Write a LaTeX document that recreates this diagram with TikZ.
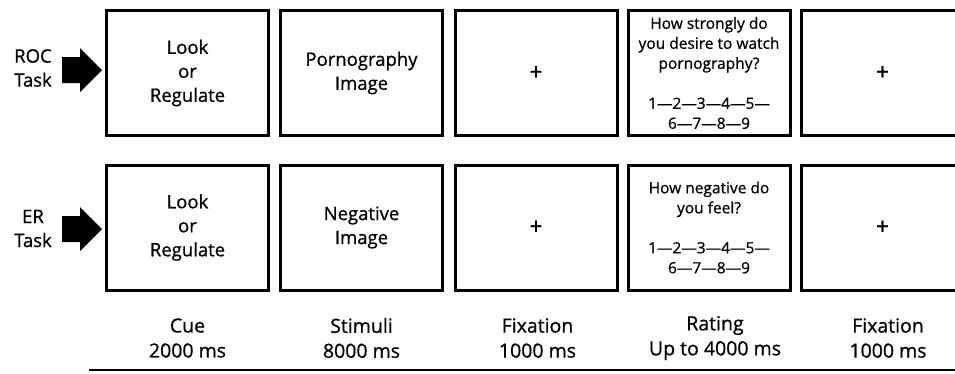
\documentclass[tikz,border=0pt]{standalone}
\usepackage{fontspec}
\setmainfont{Open Sans}[FakeBold=0.7]

\newcommand{\screenfont}{\fontsize{18.5}{24}\selectfont}
\newcommand{\ratingfont}{\fontsize{15.5}{20}\selectfont}
\newcommand{\timingfont}{\fontsize{19.5}{25}\selectfont}
\newcommand{\crossfont}{\fontsize{23}{23}\selectfont}

\begin{document}
\begin{tikzpicture}[x=1pt,y=-1pt,
	screen/.style={draw, line width=3pt, minimum width=162pt, minimum height=125pt, inner sep=0pt, align=center, font=\screenfont},
	rating/.style={screen, font=\ratingfont},
	fixation/.style={screen, font=\crossfont},
	timing/.style={inner sep=0pt, align=center, font=\timingfont},
	tasklabel/.style={inner sep=0pt, align=center, font=\screenfont}]
		\useasboundingbox (0,0) rectangle (955,373);
		\clip (0,0) rectangle (955,373);
		% 任务标签与箭头
		\node[tasklabel] (roc) at (33,68) {ROC\\Task};
		\node[tasklabel] (er) at (33,228.5) {ER\\Task};
		\foreach \y in {70,229}
			\fill (62,\y-13) -- (80,\y-13) -- (80,\y-22) -- (102,\y) -- (80,\y+22) -- (80,\y+13) -- (62,\y+13) -- cycle;
		% 第一行：ROC 任务
		\node[screen] (roc1) at (187.5,73) {Look\\or\\Regulate};
		\node[screen] (roc2) at (361.5,73) {Pornography\\Image};
		\node[fixation] (roc3) at (536,73) {+};
		\node[rating] (roc4) at (709,73) {How strongly do\\you desire to watch\\pornography?\\[20pt]1—2—3—4—5—\\6—7—8—9};
		\node[fixation] (roc5) at (882.5,73) {+};
		% 第二行：ER 任务
		\node[screen] (er1) at (187.5,227.5) {Look\\or\\Regulate};
		\node[screen] (er2) at (361.5,227.5) {Negative\\Image};
		\node[fixation] (er3) at (536,227.5) {+};
		\node[rating] (er4) at (709,227.5) {How negative do\\you feel?\\[20pt]1—2—3—4—5—\\6—7—8—9};
		\node[fixation] (er5) at (882.5,227.5) {+};
		% 时间标签
		\node[timing] (cue) at (187.5,338) {Cue\\2000 ms};
		\node[timing] (stimuli) at (361.5,338) {Stimuli\\8000 ms};
		\node[timing] (fix1) at (537.5,338) {Fixation\\1000 ms};
		\node[timing] (rate) at (715,338) {Rating\\Up to 4000 ms};
		\node[timing] (fix2) at (888,338) {Fixation\\1000 ms};
		% 时间轴
		\draw[line width=2.5pt] (89,370) -- (955,370);
	\end{tikzpicture}
\end{document}
